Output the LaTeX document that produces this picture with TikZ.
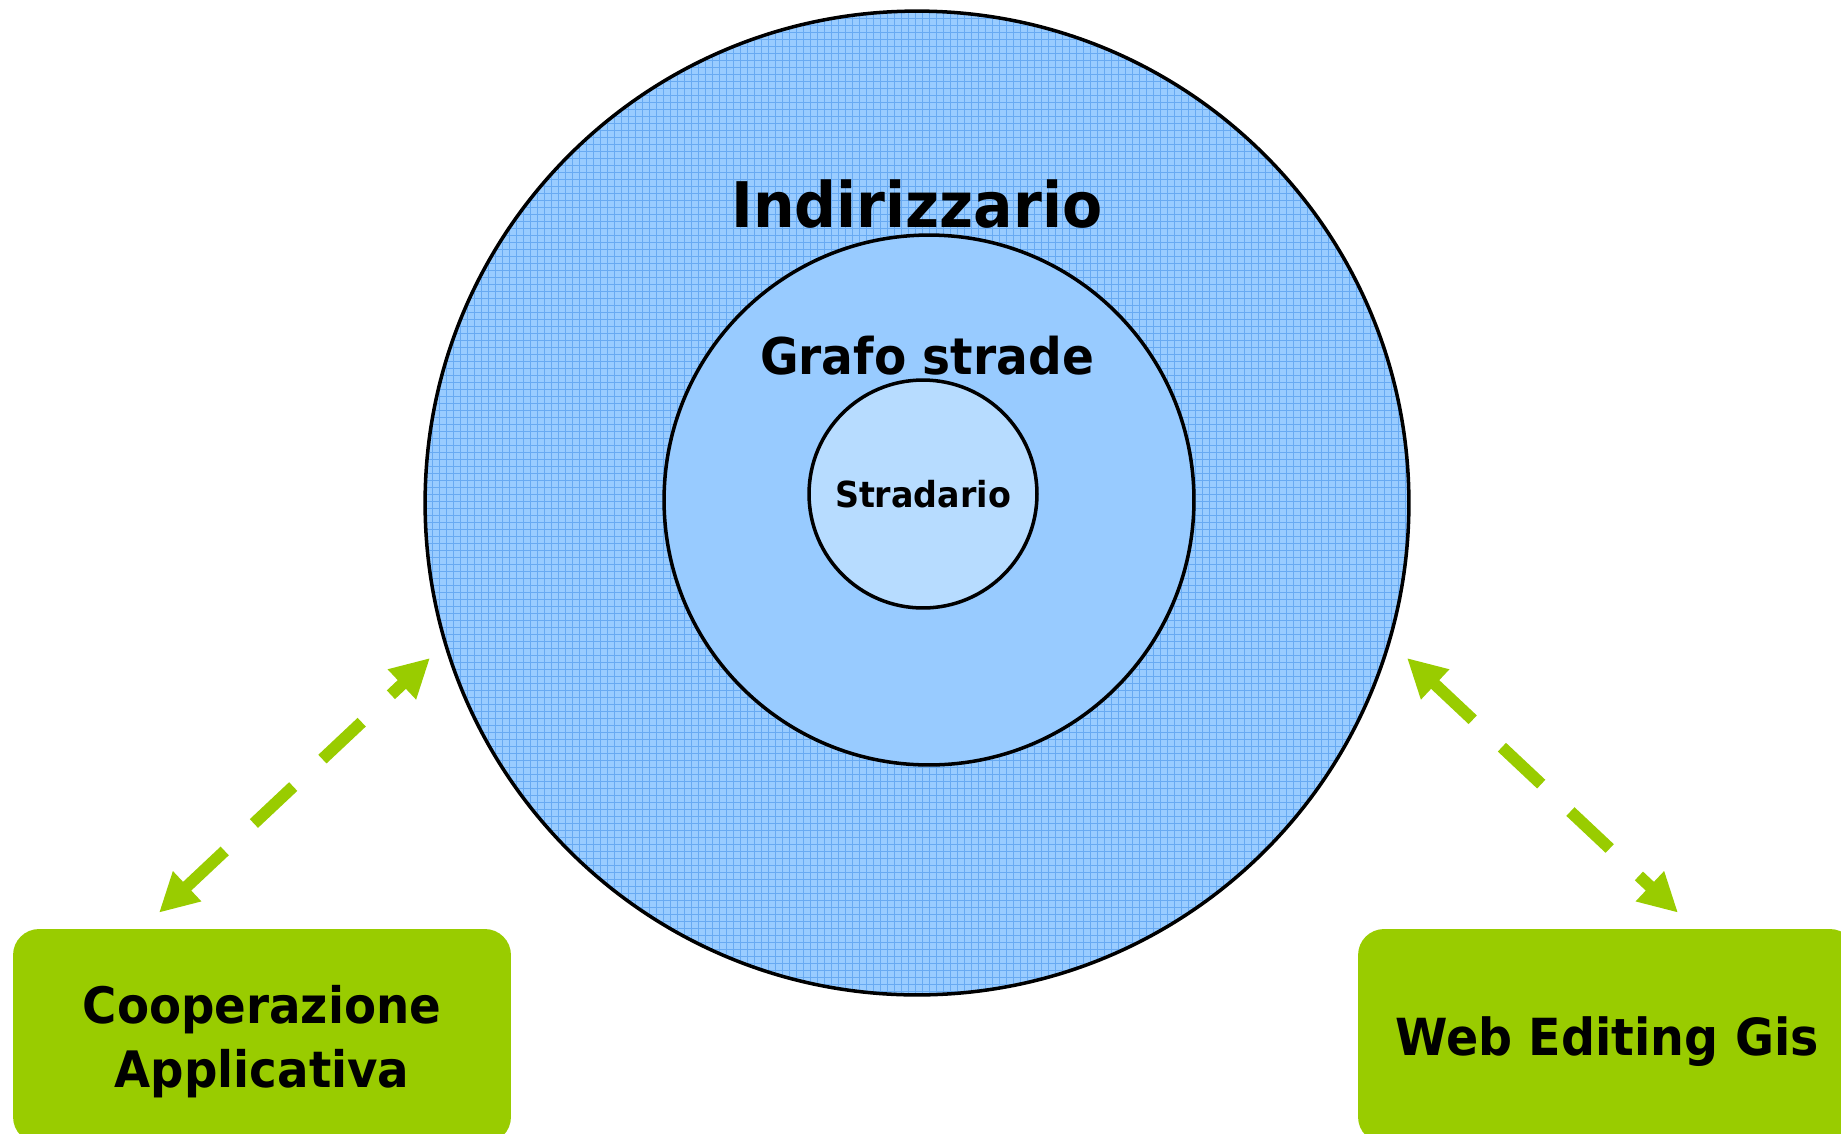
\documentclass[tikz,border=0pt]{standalone}
\usepackage{fontspec}
\setmainfont{DejaVu Sans}[FakeStretch=0.93]
\usetikzlibrary{ % tikz packages
    arrows.meta,calc
}
\definecolor{ringblue}{RGB}{153,204,255}
\definecolor{gridblue}{RGB}{104,170,242}
\definecolor{midblue}{RGB}{152,203,255}
\definecolor{coreblue}{RGB}{183,220,255}
\definecolor{appgreen}{RGB}{153,204,0}
\tikzset{
    ring/.style={circle, draw=black, line width=2pt, inner sep=0pt},
    gridline/.style={gridblue, line width=0.5pt},
    appbox/.style={rectangle, rounded corners=0.52cm, fill=appgreen,
        inner sep=0pt, minimum height=4.28cm, text depth=0pt, align=center,
        font=\bfseries\fontsize{28.6}{36.4}\selectfont},
    link/.style={appgreen, line width=6.8pt, dash pattern=on 30.7pt off 22.8pt,
        {Triangle[width=22pt,length=22pt]}-{Triangle[width=22pt,length=22pt]}}
}

\begin{document}
\begin{tikzpicture}[x=0.02cm,y=-0.02cm]
    \path[use as bounding box, clip] (0,0) rectangle (1841,1133);

    % outer ring with its grid
    \fill[ringblue] (917,503) circle (492);
    \begin{scope}
        \clip (917,503) circle (492);
        \foreach \k in {0,...,141} {
            \draw[gridline] (425+7*\k,11) -- ++(0,984);
            \draw[gridline] (425,11+7*\k) -- ++(984,0);
        }
    \end{scope}
    \node[ring, minimum size=19.68cm] (indir) at (917,503) {};
    \node[ring, fill=midblue, minimum size=10.6cm] (grafo) at (929,500) {};
    \node[ring, fill=coreblue, minimum size=4.56cm,
        font=\bfseries\fontsize{20.4}{24}\selectfont] (strad) at (923,494) {Stradario};

    \node[anchor=base, font=\bfseries\fontsize{35.8}{40}\selectfont]
        (indtxt) at (917,227) {Indirizzario};
    \node[anchor=base, font=\bfseries\fontsize{28.8}{34}\selectfont]
        (grafotxt) at (927,374) {Grafo strade};

    % the two clients
    \node[appbox, minimum width=9.96cm] (coop) at (262,1036) {Cooperazione\\Applicativa};
    \node[appbox, minimum width=9.96cm, font=\bfseries\fontsize{29.1}{34}\selectfont]
        (web) at (1607,1036) {Web Editing Gis};

    \draw[link] ($(coop.north)+(-103,-16)$) -- ($(indir.center)+(-487,155)$);
    \draw[link] ($(indir.center)+(490,155)$) -- ($(web.north)+(71,-16)$);
\end{tikzpicture}
\end{document}
